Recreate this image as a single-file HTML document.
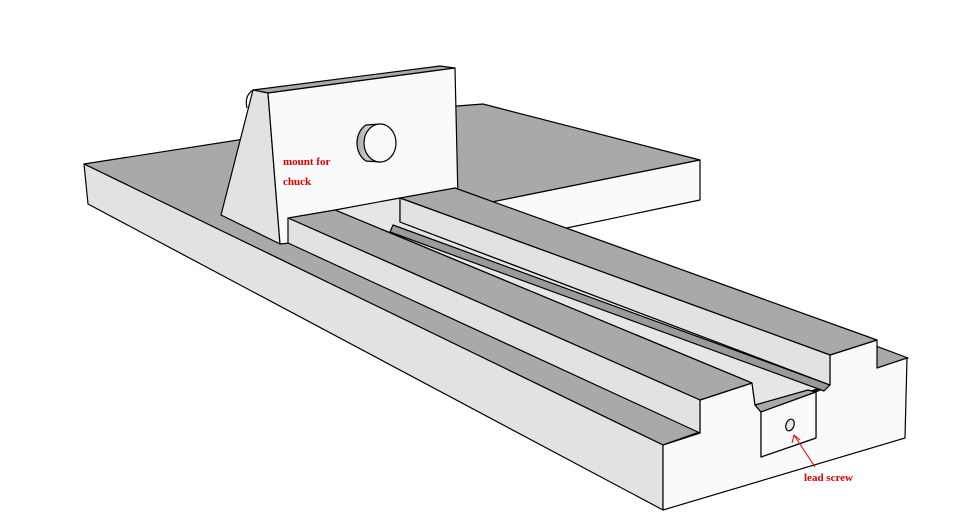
<!DOCTYPE html>
<html><head><meta charset="utf-8"><style>
html,body{margin:0;padding:0;background:#fff;width:955px;height:532px;overflow:hidden}
svg{display:block}
text{font-family:"Liberation Serif",serif;font-weight:bold;font-size:11px;fill:#e00000}
</style></head><body>
<svg width="955" height="532" viewBox="0 0 955 532" stroke="#000" stroke-width="1.2" stroke-linejoin="round">
<!-- base top incl. back plate -->
<polygon points="84,164 457,106 483,104 700,160 487,203 562,229 908,358 663,445" fill="#a9a9a9"/>
<polygon points="487,203 700,160 700,200 562,229" fill="#fafafa"/>
<!-- base front face -->
<polygon points="84,164 88,204 663,510 663,445" fill="#e2e2e2"/>
<!-- base right face -->
<polygon points="663,445 700,433 700,400 752,383 755,405 761,412 761,457 816,438 816,392 830,385 830,355 877,340 877,368 907,358 905,438 663,510" fill="#fafafa"/>
<!-- mount -->
<polygon points="253,90 440,66 455,68 268,93" fill="#a9a9a9"/>
<polygon points="253,90 268,93 280,244 221,215" fill="#e2e2e2"/>
<path d="M253,90 Q244,96 247,108" fill="none"/>
<polygon points="268,93 455,68 458,200 400,205 290,243 280,244" fill="#fafafa"/>
<!-- cylinder -->
<defs><linearGradient id="g" x1="0" x2="1"><stop offset="0" stop-color="#aaa"/><stop offset="1" stop-color="#f4f4f4"/></linearGradient></defs>
<path d="M366,125 A16,20 0 0 0 366,161 L380,162 L380,124 Z" fill="url(#g)"/>
<ellipse cx="380" cy="143" rx="16" ry="19" fill="#fafafa"/>
<!-- channel between rails -->
<polygon points="335,210 400,198 400,222 830,385 808,392 755,405 752,383" fill="#e6e6e6"/>
<polygon points="393,225 830,385 824,391 390,232" fill="#9a9a9a"/>
<polygon points="755,405 808,390 816,392 761,412" fill="#a9a9a9"/>
<!-- rail 2 (far) -->
<polygon points="400,198 455,188 877,340 830,355" fill="#a9a9a9"/>
<polygon points="400,198 830,355 830,385 400,222" fill="#e2e2e2"/>
<!-- rail 1 (near) -->
<polygon points="288,218 335,210 752,383 700,400" fill="#a9a9a9"/>
<polygon points="288,218 700,400 700,433 288,243" fill="#e2e2e2"/>
<!-- lead screw block -->
<polygon points="761,412 816,392 816,438 761,457" fill="#fafafa"/>
<ellipse cx="790" cy="425" rx="4" ry="6" fill="#e8e8e8" transform="rotate(20 790 425)"/>
<!-- arrow -->
<g stroke="#e00000" stroke-width="1" fill="none">
<line x1="815" y1="467" x2="794" y2="435"/>
<polyline points="792,443 794,435 800,440"/>
</g>
<g stroke="none">
<text x="283" y="165">mount for</text>
<text x="283" y="185">chuck</text>
<text x="804" y="481">lead screw</text>
</g>
</svg>
</body></html>
